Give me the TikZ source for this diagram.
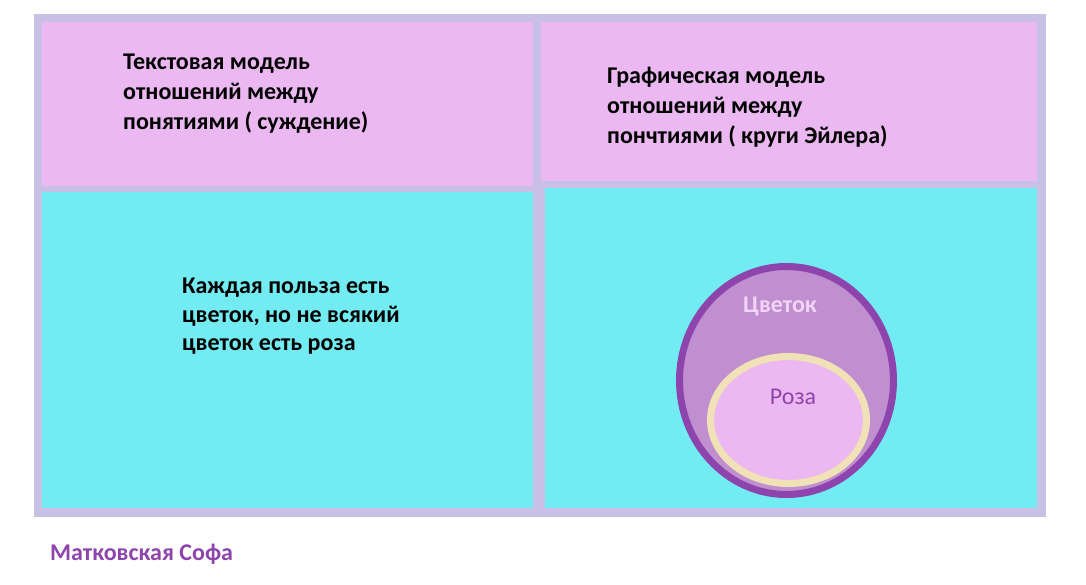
\documentclass[tikz,border=0pt]{standalone}
\usepackage{fontspec}
\usetikzlibrary{shapes.geometric}
\setmainfont{Carlito}
\definecolor{frame}{HTML}{C8C0E6}
\definecolor{pinkp}{HTML}{ECB8F2}
\definecolor{cyanp}{HTML}{72ECF2}
\definecolor{purp}{HTML}{8E44AD}
\definecolor{lilac}{HTML}{BF8FD0}
\definecolor{beige}{HTML}{F0E2B6}
\definecolor{pale}{HTML}{F2D4F6}
\begin{document}
\begin{tikzpicture}[x=1pt,y=-1pt,
  txt/.style={anchor=north west,inner sep=0pt,align=left,font=\fontsize{24}{30}\selectfont\bfseries,text=black},
  lbl/.style={inner sep=0pt,font=\fontsize{24}{28}\selectfont}]
\useasboundingbox (0,0) rectangle (1086,584);
\fill[white] (0,0) rectangle (1086,584);
\fill[frame] (34,14) rectangle (1046,517);
\fill[pinkp] (42,22) rectangle (533,186);
\fill[pinkp] (541,22) rectangle (1037,181);
\fill[cyanp] (42,192) rectangle (533,508);
\fill[cyanp] (545,188) rectangle (1037,508);
\node[txt] (t1) at (123,54) {Текстовая модель\\отношений между\\понятиями ( суждение)};
\node[txt] (t2) at (607,67) {Графическая модель\\отношений между\\пончтиями ( круги Эйлера)};
\node[txt,font=\fontsize{24}{28.5}\selectfont\bfseries] (t3) at (182,278) {Каждая польза есть\\цветок, но не всякий\\цветок есть роза};
\node[ellipse,draw=purp,line width=7pt,fill=lilac,minimum width=214pt,minimum height=228pt,inner sep=0pt] (outer) at (786.5,380.5) {};
\node[draw=beige,line width=7pt,fill=pinkp,minimum width=156pt,minimum height=127pt,inner sep=0pt,ellipse] (inner) at (788.5,420) {};
\node[lbl,text=pale,font=\fontsize{24}{28}\selectfont\bfseries] (c) at (780,307) {Цветок};
\node[lbl,text=purp] (r) at (793,397) {Роза};
\node[anchor=west,inner sep=0pt,text=purp,font=\fontsize{24}{28}\selectfont\bfseries] (a) at (50,554) {Матковская Софа};
\end{tikzpicture}
\end{document}
